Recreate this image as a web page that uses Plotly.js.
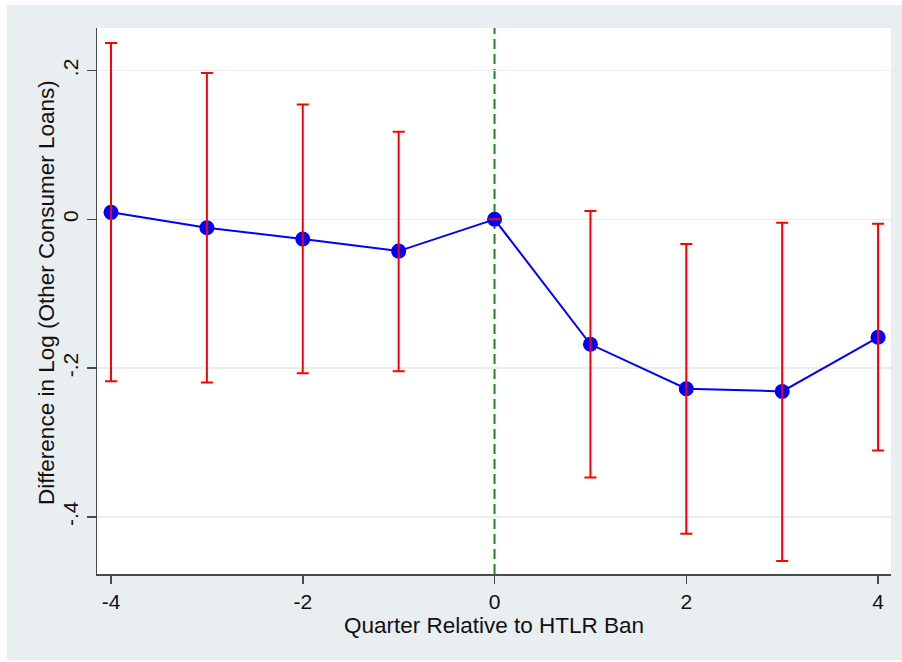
<!DOCTYPE html>
<html>
<head>
<meta charset="utf-8">
<script src="https://cdn.plot.ly/plotly-3.0.1.min.js"></script>
<style>
  html, body { margin: 0; padding: 0; background: #ffffff; }
  #chart { position: absolute; left: 7px; top: 5px; width: 895px; height: 655px; }
</style>
</head>
<body>
<div id="chart"></div>
<script>
// Quarter relative to HTLR ban
const quarters = [-4, -3, -2, -1, 0, 1, 2, 3, 4];
// Point estimates
const estimates = [0.0094, -0.0113, -0.0265, -0.0427, 0.0, -0.168, -0.2277, -0.2313, -0.1586];
// Confidence interval bounds
const ciUpper = [0.2371, 0.1967, 0.1544, 0.1176, 0.0, 0.0112, -0.0333, -0.0046, -0.0059];
const ciLower = [-0.2178, -0.2192, -0.2070, -0.2044, 0.0, -0.3470, -0.4226, -0.4594, -0.3108];
// Tick labels
const xTickVals = [-4, -2, 0, 2, 4];
const xTickText = ['-4', '-2', '0', '2', '4'];
const yTickVals = [0.2, 0, -0.2, -0.4];
const yTickText = ['.2', '0', '-.2', '-.4'];
const yTitle = 'Difference in Log (Other Consumer Loans)';
const xTitle = 'Quarter Relative to HTLR Ban';

const errPlus = ciUpper.map((u, i) => u - estimates[i]);
const errMinus = estimates.map((e, i) => e - ciLower[i]);

const lineTrace = {
  x: quarters, y: estimates, type: 'scatter', mode: 'lines+markers',
  line: { color: '#0000ff', width: 2 },
  marker: { color: '#0000ff', size: 15 },
  hoverinfo: 'skip', showlegend: false
};
const ciTrace = {
  x: quarters, y: estimates, type: 'scatter', mode: 'markers',
  marker: { color: 'rgba(0,0,0,0)', size: 1 },
  error_y: { type: 'data', symmetric: false, array: errPlus, arrayminus: errMinus,
             color: '#ff0000', thickness: 2, width: 6 },
  hoverinfo: 'skip', showlegend: false
};

const fontFam = 'Liberation Sans, Arial, sans-serif';
const layout = {
  width: 895, height: 655,
  paper_bgcolor: '#e9eff1', plot_bgcolor: '#ffffff',
  margin: { l: 90, r: 11, t: 23, b: 86 },
  font: { family: fontFam, size: 21, color: '#111111' },
  xaxis: {
    range: [-4.146, 4.135], tickvals: xTickVals, ticktext: xTickText,
    showgrid: false, zeroline: false, showline: true, linecolor: '#4a4a4a', linewidth: 1.5,
    ticks: 'outside', ticklen: 8, tickcolor: '#4a4a4a', tickwidth: 1.5,
    tickfont: { family: fontFam, size: 21, color: '#111111' },
    title: { text: xTitle, font: { family: fontFam, size: 22.5, color: '#111111' }, standoff: 5 }
  },
  yaxis: {
    range: [-0.4768, 0.2572], tickvals: yTickVals, ticktext: yTickText, tickangle: -90,
    showgrid: true, gridcolor: '#ececec', gridwidth: 1.5, zeroline: false,
    showline: true, linecolor: '#4a4a4a', linewidth: 1.5,
    ticks: 'outside', ticklen: 9, tickcolor: '#4a4a4a', tickwidth: 1.5,
    tickfont: { family: fontFam, size: 21, color: '#111111' }
  },
  annotations: [{
    text: yTitle, xref: 'paper', yref: 'paper', x: 0, y: 0.5,
    xanchor: 'center', yanchor: 'middle', xshift: -51, yshift: 8,
    textangle: -90, showarrow: false,
    font: { family: fontFam, size: 22.5, color: '#111111' }
  }],
  shapes: [{
    type: 'line', xref: 'x', yref: 'paper', x0: 0, x1: 0, y0: 0, y1: 1,
    line: { color: '#1a8a1a', width: 2, dash: '10px,5px' }, layer: 'below'
  }]
};

Plotly.newPlot('chart', [lineTrace, ciTrace], layout, { displayModeBar: false, staticPlot: true });
</script>
</body>
</html>
